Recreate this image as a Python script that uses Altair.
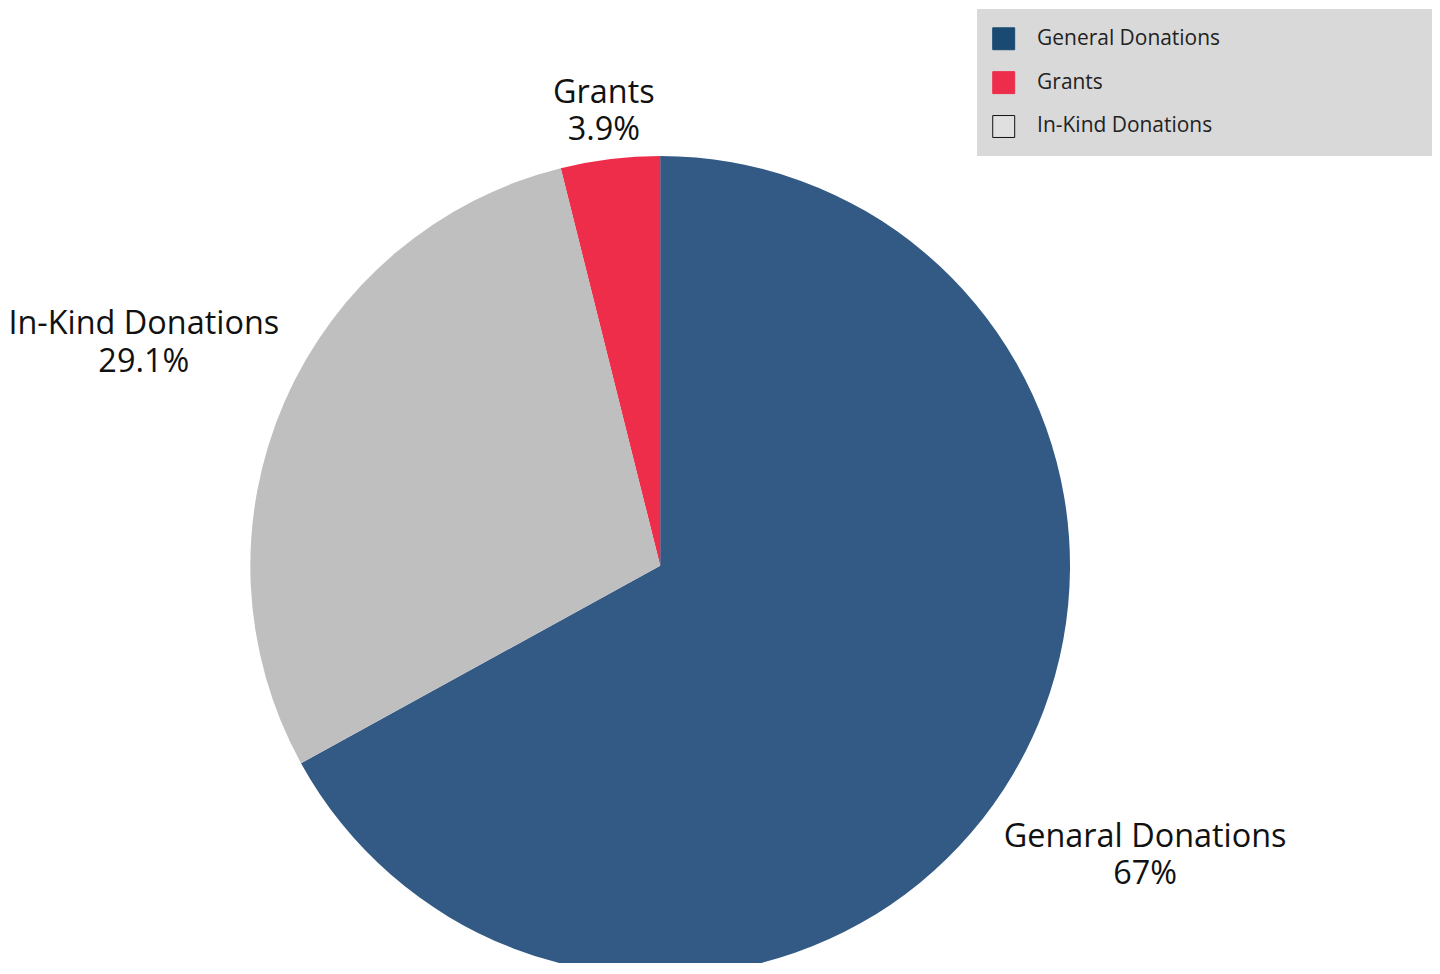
import altair as alt
import pandas as pd

categories = ["General Donations", "Grants", "In-Kind Donations"]
labels = ["Genaral Donations", "Grants", "In-Kind Donations"]
values = [67, 3.9, 29.1]
slice_colors = ["#325a84", "#ee2d4b", "#bfbfbf"]
legend_fill = ["#1a4a72", "#ee2d4d", "#e0e0e0"]
legend_stroke = ["#1a4a72", "#ee2d4d", "#111111"]

df = pd.DataFrame({"category": categories, "label": labels, "value": values})

CX, CY = 654, 558
R = 411

base = alt.Chart(df)

theta = alt.Theta("value:Q", stack=True)
order = alt.Order("value:Q", sort="descending")

bg = alt.Chart(df).mark_rect(color="#d9d9d9").encode(
    x=alt.value(972), x2=alt.value(1431), y=alt.value(0), y2=alt.value(147)
)

pie = base.mark_arc(outerRadius=R, strokeWidth=0).encode(
    theta=theta,
    order=order,
    color=alt.Color("category:N", scale=alt.Scale(domain=categories, range=slice_colors), legend=None),
    x=alt.value(CX),
    y=alt.value(CY),
)

text = base.transform_joinaggregate(
    total="sum(value)"
).transform_window(
    cum="sum(value)",
    sort=[alt.SortField("value", order="descending")],
    frame=[None, 0],
).transform_calculate(
    ang="2 * PI * (datum.cum - datum.value / 2) / datum.total",
    txt="datum.label + '\\n' + datum.value + '%'",
    lr="datum.category == 'Grants' ? 462 : 565",
).mark_text(
    lineBreak="\n", font="Open Sans", fontSize=32.5, lineHeight=38,
    color="#111111", align="center", baseline="middle", dy=-16
).encode(
    theta=alt.Theta("ang:Q", scale=None),
    text="txt:N",
    radius=alt.Radius("lr:Q", scale=None),
    x=alt.value(CX),
    y=alt.value(CY),
)

leg = dict(
    title=None, orient="none", legendX=987, legendY=18, padding=0, zindex=1,
    symbolType="square", symbolSize=484, symbolStrokeWidth=1, symbolOpacity=1,
    labelFont="Open Sans", labelFontSize=21, labelColor="#222222", labelLimit=400,
    labelOffset=22, rowPadding=17, direction="vertical",
)

# legend carrier: small squares hidden under the pie centre
dummy = base.mark_square(size=100, strokeWidth=1, opacity=1).encode(
    fill=alt.Fill("category:N", scale=alt.Scale(domain=categories, range=legend_fill), legend=alt.Legend(**leg)),
    stroke=alt.Stroke("category:N", scale=alt.Scale(domain=categories, range=legend_stroke), legend=alt.Legend(**leg)),
    x=alt.value(CX - 60),
    y=alt.value(CY + 10),
)

chart = alt.layer(bg, dummy, pie, text).properties(
    width=1428, height=955, padding=0,
    autosize=alt.AutoSizeParams(type="none"),
).configure(font="Open Sans").configure_view(stroke=None)

chart.save("out.html", embed_options={"renderer": "svg", "actions": False})
